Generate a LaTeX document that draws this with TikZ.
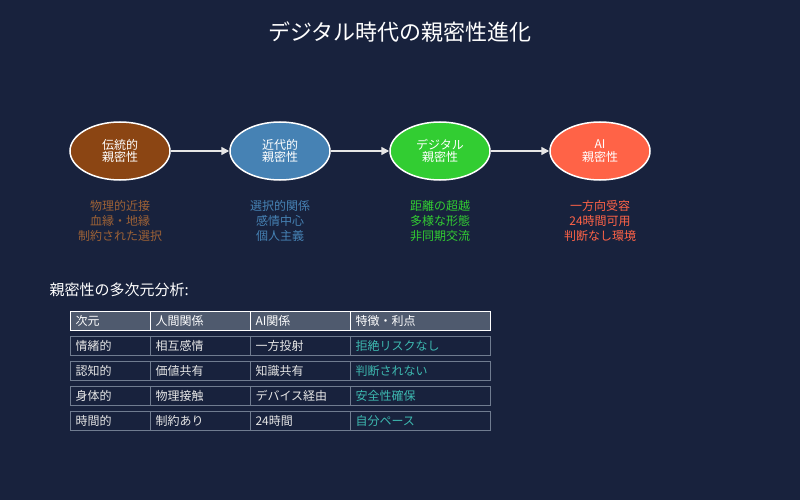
\documentclass[tikz,border=0pt]{standalone}
\usepackage{fontspec}
\setmainfont{Noto Sans CJK JP}
\usetikzlibrary{arrows.meta}
\definecolor{bg}{HTML}{18223D}
\definecolor{cbrown}{HTML}{8B4513}
\definecolor{cblue}{HTML}{4682B4}
\definecolor{cgreen}{HTML}{32CD32}
\definecolor{cred}{HTML}{FF6347}
\definecolor{hdr}{HTML}{4F5A6E}
\definecolor{cellb}{HTML}{707C90}
\definecolor{teal}{HTML}{3DB8B0}
\definecolor{txt}{HTML}{E6E6E6}
\begin{document}
\begin{tikzpicture}[x=1pt,y=-1pt,
 stage/.style={ellipse,draw=white,line width=1.5pt,minimum width=100pt,minimum height=58pt,inner sep=0pt,text=white,font=\fontsize{12}{12.5}\selectfont,align=center},
 desc/.style={font=\fontsize{12}{15}\selectfont,align=center},
 arr/.style={draw={rgb,255:red,230;green,230;blue,230},line width=1.5pt,-{Triangle[length=8pt,width=8pt]}},
 cell/.style={draw=cellb,line width=0.8pt,minimum height=19pt,inner sep=4pt,anchor=west,text=txt,font=\fontsize{12}{12}\selectfont},
 hcell/.style={draw=white,fill=hdr,line width=1pt,minimum height=19pt,text=white,font=\fontsize{12}{12}\selectfont}]
\fill[bg] (0,0) rectangle (800,500);
\useasboundingbox (0,0) rectangle (800,500);
\usetikzlibrary{shapes.geometric}
\node[text=white,font=\fontsize{22}{22}\selectfont] (title) at (400,32) {デジタル時代の親密性進化};
\node[stage,fill=cbrown] (s1) at (120,151) {伝統的\\親密性};
\node[stage,fill=cblue] (s2) at (280,151) {近代的\\親密性};
\node[stage,fill=cgreen] (s3) at (440,151) {デジタル\\親密性};
\node[stage,fill=cred] (s4) at (600,151) {AI\\親密性};
\draw[arr] (s1) -- (s2);
\draw[arr] (s2) -- (s3);
\draw[arr] (s3) -- (s4);
\node[desc,text=cbrown!85!white] (d1) at (120,221) {物理的近接\\血縁・地縁\\制約された選択};
\node[desc,text=cblue] (d2) at (280,221) {選択的関係\\感情中心\\個人主義};
\node[desc,text=cgreen] (d3) at (440,221) {距離の超越\\多様な形態\\非同期交流};
\node[desc,text=cred] (d4) at (600,221) {一方向受容\\24時間可用\\判断なし環境};
\node[text=white,anchor=west,font=\fontsize{15}{15}\selectfont] (sub) at (46,290) {親密性の多次元分析:};
% header
\foreach \x/\w/\t [count=\i] in {70/80/次元,150/100/人間関係,250/100/AI関係,350/140/特徴・利点}{
 \draw[draw=white,fill=hdr,line width=1pt] (\x,311) rectangle ++(\w,19);
 \node[anchor=west,text=white,font=\fontsize{12}{12}\selectfont] (h\i) at (\x+2,320.5) {\t};
}
\foreach \y/\a/\b/\c/\d [count=\r] in {336/情緒的/相互感情/一方投射/拒絶リスクなし,361/認知的/価値共有/知識共有/判断されない,386/身体的/物理接触/デバイス経由/安全性確保,411/時間的/制約あり/24時間/自分ペース}{
 \draw[cellb,line width=0.8pt] (70,\y) rectangle (150,\y+19) (150,\y) rectangle (250,\y+19) (250,\y) rectangle (350,\y+19) (350,\y) rectangle (490,\y+19);
 \node[anchor=west,text=txt,font=\fontsize{12}{12}\selectfont] (ra\r) at (72,\y+9.5) {\a};
 \node[anchor=west,text=txt,font=\fontsize{12}{12}\selectfont] (rb\r) at (152,\y+9.5) {\b};
 \node[anchor=west,text=txt,font=\fontsize{12}{12}\selectfont] (rc\r) at (252,\y+9.5) {\c};
 \node[anchor=west,text=teal,font=\fontsize{12}{12}\selectfont] (rd\r) at (352,\y+9.5) {\d};
}
\end{tikzpicture}
\end{document}
